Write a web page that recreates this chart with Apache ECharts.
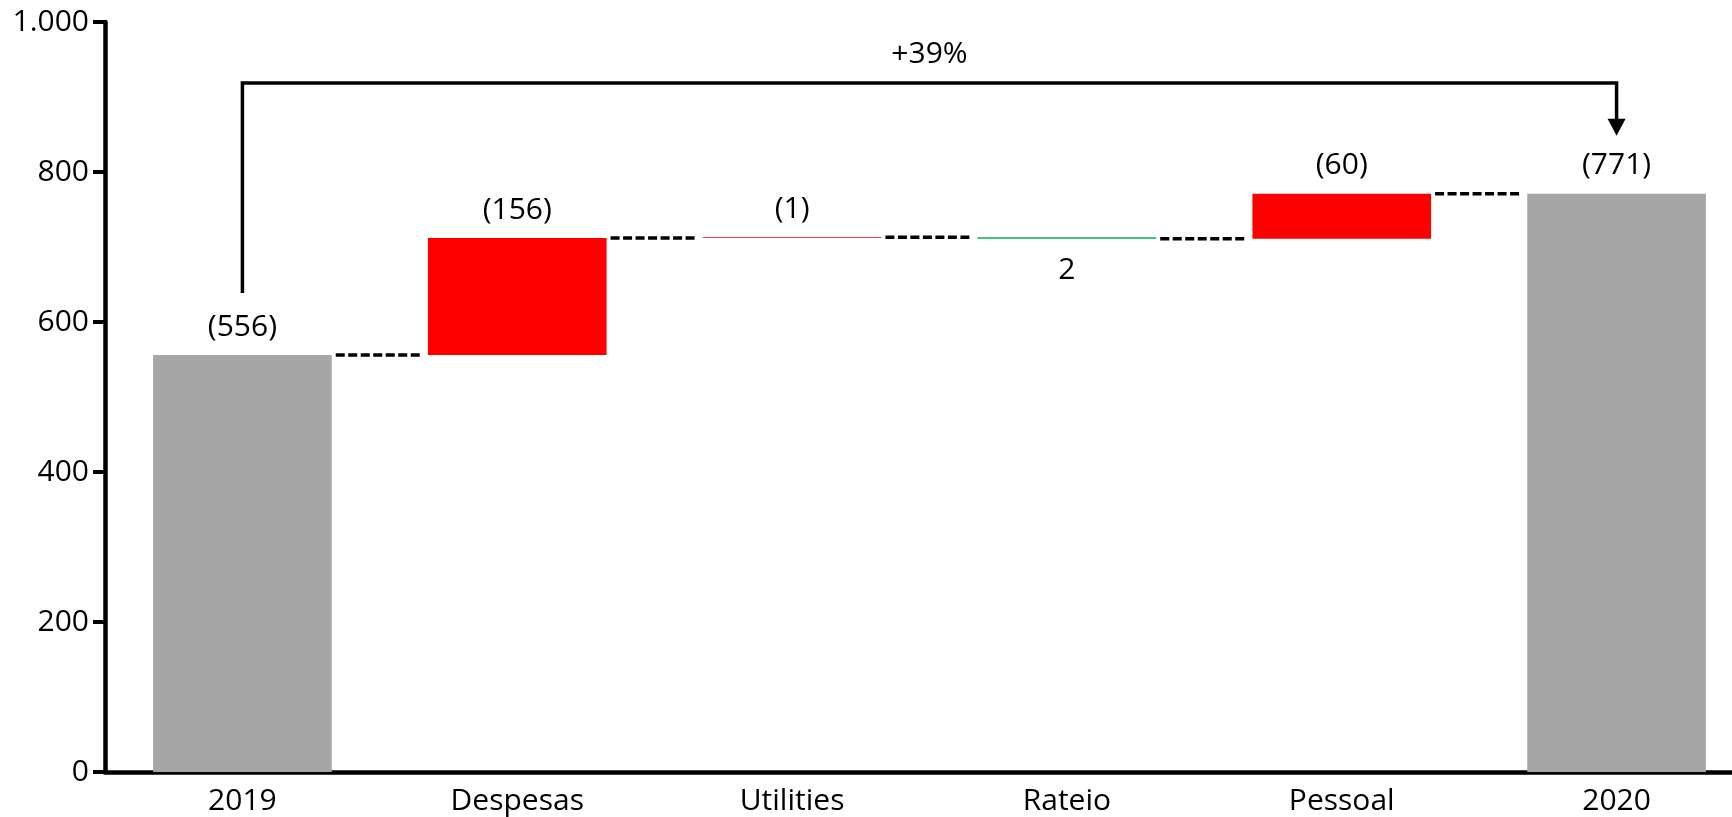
<!DOCTYPE html>
<html>
<head>
<meta charset="utf-8">
<script src="https://cdn.jsdelivr.net/npm/echarts@6/dist/echarts.min.js"></script>
<style>
  html, body { margin: 0; padding: 0; background: #fff; overflow: hidden; }
  /* the plot runs past the right edge of the window in the reference */
  #chart { width: 1760px; height: 817px; }
</style>
</head>
<body>
<div id="chart"></div>
<script>
// categories and values
const categories = ["2019", "Despesas", "Utilities", "Rateio", "Pessoal", "2020"];
const startValue = 556;
const changes = [156, 1, -2, 60]; // Despesas, Utilities, Rateio, Pessoal
const endValue = 771;
const yTicks = [0, 200, 400, 600, 800, 1000];

const FONT = "'Open Sans', 'Noto Sans', sans-serif";
const GREY = "#a6a6a6";
const RED = "#ff0000";
const GREEN = "#00b050";

// build waterfall pieces
const baseData = [0];
const barData = [{ value: startValue, itemStyle: { color: GREY }, delta: startValue }];
const levels = [startValue];
let running = startValue;
changes.forEach((c) => {
  const next = running + c;
  baseData.push(Math.min(running, next));
  barData.push({
    value: Math.abs(c),
    delta: c,
    itemStyle: { color: c >= 0 ? RED : GREEN },
    label: { position: c >= 0 ? "top" : "bottom", distance: c >= 0 ? 13 : 17 },
  });
  running = next;
  levels.push(running);
});
baseData.push(0);
barData.push({ value: endValue, itemStyle: { color: GREY }, delta: endValue });

const pct = Math.round((endValue / startValue - 1) * 100);
const pctText = (pct >= 0 ? "+" : "") + pct + "%";

const chart = echarts.init(document.getElementById("chart"));

chart.setOption({
  backgroundColor: "#ffffff",
  animation: false,
  grid: { left: 105, top: 22, width: 1649, height: 750, outerBoundsMode: "none" },
  xAxis: {
    type: "category",
    data: categories,
    axisLine: { lineStyle: { color: "#000", width: 4.5 } },
    axisTick: { show: false },
    axisLabel: { color: "#000", fontSize: 30, fontFamily: FONT, margin: 14 },
  },
  yAxis: {
    type: "value",
    min: yTicks[0],
    max: yTicks[yTicks.length - 1],
    interval: 200,
    axisLine: { show: true, lineStyle: { color: "#000", width: 4.5 } },
    axisTick: { show: true, length: 12, lineStyle: { color: "#000", width: 4 } },
    splitLine: { show: false },
    axisLabel: {
      color: "#000",
      fontSize: 30,
      fontFamily: FONT,
      margin: 16,
      formatter: (v) => String(v).replace(/\B(?=(\d{3})+(?!\d))/g, "."),
    },
  },
  series: [
    {
      type: "bar",
      stack: "wf",
      data: baseData,
      itemStyle: { color: "transparent" },
      barWidth: "65%",
      silent: true,
    },
    {
      type: "bar",
      stack: "wf",
      data: barData,
      barWidth: "65%",
      label: {
        show: true,
        position: "top",
        distance: 13,
        color: "#000",
        fontSize: 30,
        fontFamily: FONT,
        formatter: (p) => {
          const d = p.data.delta;
          return d >= 0 ? "(" + d + ")" : String(-d);
        },
      },
    },
    {
      // dashed connectors between bars
      type: "custom",
      data: levels.map((v, i) => [i, v]),
      renderItem: (params, api) => {
        const i = api.value(0);
        const lvl = api.value(1);
        const p1 = api.coord([i, lvl]);
        const p2 = api.coord([i + 1, lvl]);
        const bw = api.size([1, 0])[0] * 0.65;
        return {
          type: "line",
          shape: { x1: p1[0] + bw / 2 + 4, y1: p1[1], x2: p2[0] - bw / 2 - 6, y2: p2[1] },
          style: { stroke: "#000", lineWidth: 3.5, lineDash: [9, 3.5] },
        };
      },
      silent: true,
      z: 3,
    },
    {
      // growth bracket from first to last total
      type: "custom",
      data: [[0, startValue, categories.length - 1, endValue]],
      renderItem: (params, api) => {
        const a = api.coord([api.value(0), api.value(1)]);
        const b = api.coord([api.value(2), api.value(3)]);
        const topY = api.coord([0, yTicks[yTicks.length - 1]])[1] + 61;
        const startY = a[1] - 62;
        const tipY = b[1] - 58;
        const ah = 17, aw = 9;
        return {
          type: "group",
          children: [
            {
              type: "polyline",
              shape: { points: [[a[0], startY], [a[0], topY], [b[0], topY], [b[0], tipY - ah + 1]] },
              style: { stroke: "#000", lineWidth: 3.5, fill: null },
            },
            {
              type: "polygon",
              shape: { points: [[b[0] - aw, tipY - ah], [b[0] + aw, tipY - ah], [b[0], tipY]] },
              style: { fill: "#000" },
            },
            {
              type: "text",
              style: {
                text: pctText,
                x: (a[0] + b[0]) / 2,
                y: topY - 29,
                align: "center",
                verticalAlign: "middle",
                fill: "#000",
                fontSize: 30,
                fontFamily: FONT,
              },
            },
          ],
        };
      },
      silent: true,
      z: 4,
    },
  ],
});
</script>
</body>
</html>
